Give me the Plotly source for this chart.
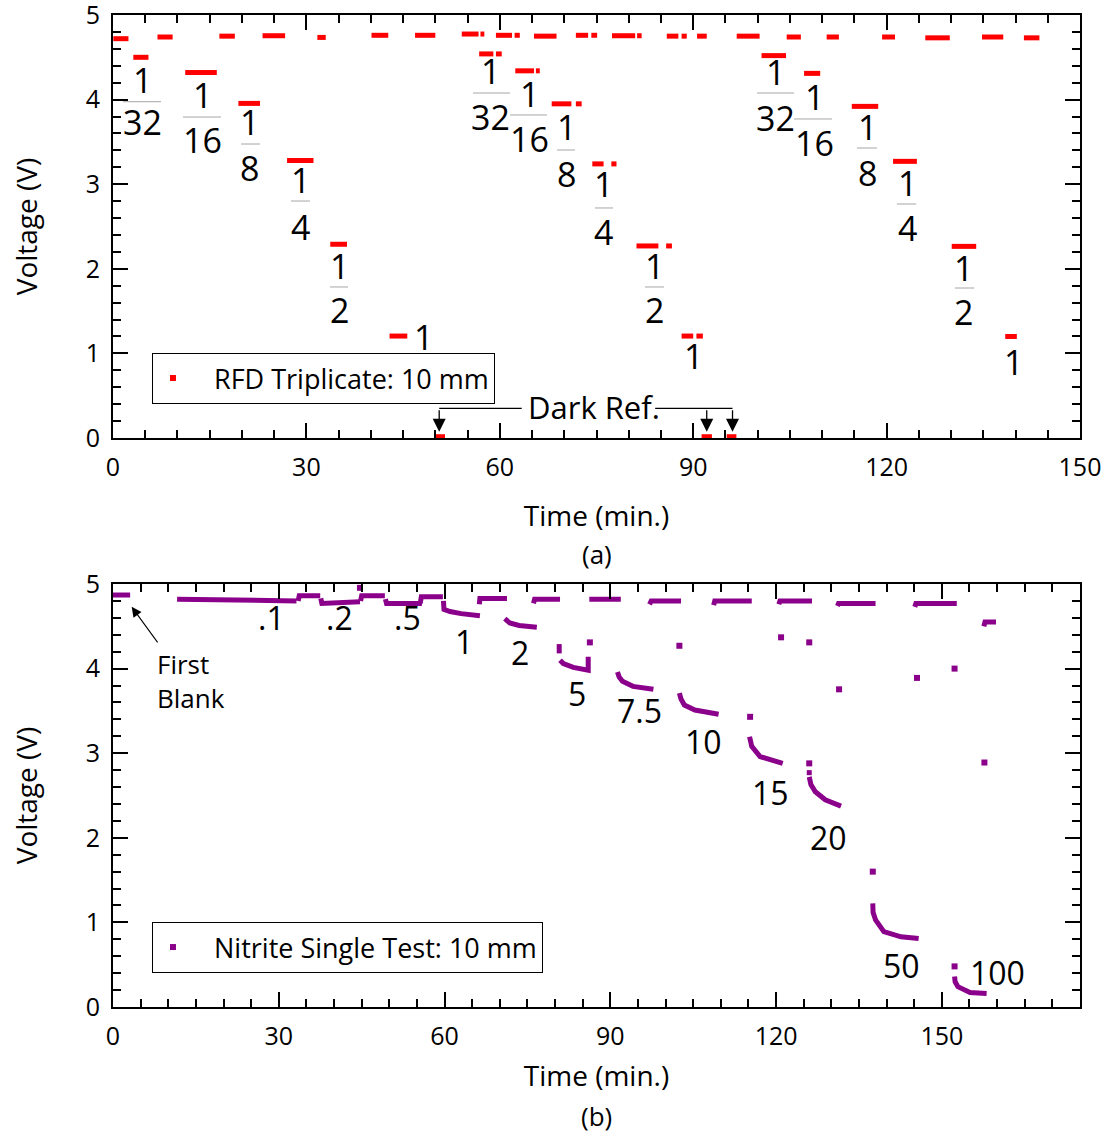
import plotly.graph_objects as go

# ---------------- data: panel (a) RFD triplicate ----------------
top_seg_x0 = [0.05, 3.15, 6.9, 11.2, 16.5, 19.45, 23.2, 27.0, 31.7, 33.7, 40.1, 42.9, 46.85, 50.0,
              54.1, 57.0, 56.8, 59.4, 59.4, 62.3, 62.4, 65.6, 65.3, 68.05, 71.8, 71.8, 74.2, 74.35, 77.3,
              77.4, 81.3, 81.2, 85.8, 85.9, 88.2, 88.2, 90.5, 90.6, 91.3, 95.2,
              96.75, 100.6, 104.5, 107.2, 110.7, 114.6, 119.3, 121.0, 126.0, 130.1, 134.8, 138.4, 141.3]
top_seg_x1 = [2.4, 5.5, 9.25, 16.1, 18.9, 22.8, 26.7, 31.1, 33.0, 36.3, 42.7, 45.65, 50.0, 51.5,
              56.7, 57.6, 59.0, 60.3, 61.9, 63.1, 65.3, 66.2, 68.8, 71.1, 72.7, 73.7, 75.1, 76.1, 78.1,
              81.0, 82.0, 84.6, 86.7, 87.7, 89.0, 90.0, 91.5, 92.1, 92.9, 96.7,
              100.3, 104.4, 106.7, 109.7, 112.6, 118.7, 121.3, 124.7, 129.8, 133.9, 138.1, 140.2, 143.7]
top_seg_v = [4.72, 4.50, 4.74, 4.32, 4.75, 3.955, 4.755, 3.28, 4.735, 2.29, 4.76, 1.205, 4.76, 0.015,
             4.775, 4.775, 4.54, 4.54, 4.76, 4.76, 4.34, 4.34, 4.75, 3.95, 3.95, 4.76, 4.76, 3.24, 3.24,
             4.755, 4.755, 2.27, 2.27, 4.75, 4.75, 1.205, 1.205, 4.75, 0.015, 0.015,
             4.75, 4.52, 4.74, 4.31, 4.74, 3.92, 4.74, 3.27, 4.73, 2.265, 4.74, 1.20, 4.73]

top_numerators = ["1"] * 18
top_denominators = ["32", "16", "8", "4", "2", "",
                    "32", "16", "8", "4", "2", "",
                    "32", "16", "8", "4", "2", ""]

# ---------------- data: panel (b) nitrite single test ----------------
bot_seg_x = [
    [0.0, 3.1],
    [11.6, 22.0, 33.2],
    [33.5, 33.7, 37.5],
    [37.6, 37.8, 44.7],
    [44.6, 44.6],
    [44.8, 45.0, 49.2],
    [49.3, 49.5, 55.9],
    [55.6, 55.8, 59.7],
    [59.8, 59.9, 61.0, 63.0, 66.4],
    [66.3, 66.4, 71.3],
    [70.9, 71.8, 73.5, 76.7],
    [76.1, 76.3, 80.9],
    [80.75, 80.75],
    [80.9, 81.5, 83.3, 86.0, 86.0],
    [86.2, 91.9],
    [91.3, 91.6, 92.2, 94.1, 97.8],
    [97.1, 97.4, 102.8],
    [102.5, 102.8, 103.4, 105.3, 109.6],
    [108.7, 108.9, 115.6],
    [115.2, 115.3, 115.6, 117.1, 121.2],
    [120.5, 120.7, 126.5],
    [126.0, 126.0],
    [126.0, 126.3, 127.1, 128.9, 131.75],
    [131.1, 131.3, 138.0],
    [137.5, 137.55, 138.0, 139.5, 142.6, 145.8],
    [145.1, 145.3, 152.7],
    [152.3, 152.4, 152.9, 155.1, 158.1],
    [157.6, 157.8, 159.8],
]
bot_seg_v = [
    [4.87, 4.87],
    [4.82, 4.81, 4.80],
    [4.80, 4.86, 4.86],
    [4.83, 4.77, 4.79],
    [4.99, 4.92],
    [4.80, 4.86, 4.86],
    [4.82, 4.77, 4.77],
    [4.77, 4.85, 4.85],
    [4.80, 4.70, 4.675, 4.65, 4.625],
    [4.76, 4.83, 4.83],
    [4.59, 4.54, 4.51, 4.49],
    [4.77, 4.82, 4.82],
    [4.29, 4.18],
    [4.10, 4.06, 4.015, 3.98, 4.14],
    [4.82, 4.82],
    [3.96, 3.90, 3.85, 3.79, 3.755],
    [4.76, 4.80, 4.80],
    [3.71, 3.64, 3.57, 3.51, 3.46],
    [4.75, 4.80, 4.80],
    [3.195, 3.14, 3.08, 2.96, 2.88],
    [4.76, 4.80, 4.80],
    [2.80, 2.74],
    [2.72, 2.63, 2.545, 2.45, 2.375],
    [4.74, 4.77, 4.77],
    [1.225, 1.12, 1.03, 0.89, 0.83, 0.81],
    [4.73, 4.77, 4.77],
    [0.36, 0.30, 0.24, 0.17, 0.16],
    [4.50, 4.55, 4.55],
]
bot_dot_x = [86.3, 102.5, 115.3, 120.9, 126.0, 126.0, 131.4, 137.5, 145.5, 152.3, 152.3, 157.7]
bot_dot_v = [4.31, 4.27, 3.43, 4.37, 4.31, 2.88, 3.755, 1.60, 3.89, 4.00, 0.48, 2.89]

bot_labels = [".1", ".2", ".5", "1", "2", "5", "7.5", "10", "15", "20", "50", "100"]

x_ticks_top = [0, 30, 60, 90, 120, 150]
x_ticks_bot = [0, 30, 60, 90, 120, 150]
y_ticks = [0, 1, 2, 3, 4, 5]

# ---------------- layout positions (not data) ----------------
# (center x, numerator y, bar y, bar x0, bar x1, denominator y) in panel (a) data units
frac_pos = [
    (4.50, 4.232, 3.975, 1.55, 7.45, 3.735),
    (13.81, 4.054, 3.794, 10.86, 16.75, 3.522),
    (21.25, 3.735, 3.475, 19.86, 22.80, 3.191),
    (29.01, 3.050, 2.801, 27.61, 30.56, 2.494),
    (35.06, 2.033, 1.785, 33.66, 36.45, 1.513),
    (48.24, 1.194, None, None, None, None),
    (58.63, 4.338, 4.078, 55.84, 61.58, 3.794),
    (64.68, 4.066, 3.818, 61.58, 67.32, 3.534),
    (70.27, 3.676, 3.404, 68.87, 71.66, 3.121),
    (76.16, 3.002, 2.719, 74.77, 77.56, 2.435),
    (84.07, 2.033, 1.785, 82.52, 85.47, 1.513),
    (90.12, 0.969, None, None, None, None),
    (102.69, 4.326, 4.078, 99.90, 105.64, 3.783),
    (108.74, 4.031, 3.771, 105.64, 111.53, 3.487),
    (116.96, 3.676, 3.428, 115.40, 118.50, 3.132),
    (123.18, 3.014, 2.766, 121.6, 124.6, 2.482),
    (132.0, 2.009, 1.773, 130.6, 133.6, 1.489),
    (139.76, 0.898, None, None, None, None),
]
bot_label_pos = [(28.77, 4.60), (41.07, 4.60), (53.37, 4.60), (63.51, 4.326), (73.64, 4.196),
                 (83.95, 3.70), (95.35, 3.499), (106.84, 3.144), (118.96, 2.541), (129.55, 2.009),
                 (142.75, 0.496), (160.12, 0.402)]

RED = "#FF0000"
PURPLE = "#8B008B"
FONT = "Open Sans"
NB = "\u00a0"

fig = go.Figure()

# panel (a) dashes
xt, yt = [], []
for a, b, v in zip(top_seg_x0, top_seg_x1, top_seg_v):
    xt += [a, b, None]
    yt += [v, v, None]
fig.add_trace(go.Scatter(x=xt, y=yt, mode="lines", line=dict(color=RED, width=5),
                         xaxis="x", yaxis="y", showlegend=False, hoverinfo="skip"))
fig.add_trace(go.Scatter(x=[None], y=[None], mode="markers",
                         marker=dict(symbol="square", size=6, color=RED),
                         name=NB * 3 + "RFD Triplicate: 10 mm", xaxis="x", yaxis="y",
                         legend="legend"))

# panel (b)
xb, yb = [], []
for sx, sv in zip(bot_seg_x, bot_seg_v):
    xb += list(sx) + [None]
    yb += list(sv) + [None]
fig.add_trace(go.Scatter(x=xb, y=yb, mode="lines", line=dict(color=PURPLE, width=5),
                         xaxis="x2", yaxis="y2", showlegend=False, hoverinfo="skip"))
fig.add_trace(go.Scatter(x=bot_dot_x, y=bot_dot_v, mode="markers",
                         marker=dict(symbol="square", size=6, color=PURPLE),
                         name=NB * 3 + "Nitrite Single Test: 10 mm", xaxis="x2", yaxis="y2",
                         legend="legend2"))

annotations = []
shapes = []
for (cx, ny, by, bx0, bx1, dy), num, den in zip(frac_pos, top_numerators, top_denominators):
    annotations.append(dict(x=cx, y=ny, xref="x", yref="y", text=num, showarrow=False,
                            font=dict(family=FONT, size=34, color="black")))
    if den:
        annotations.append(dict(x=cx, y=dy, xref="x", yref="y", text=den, showarrow=False,
                                font=dict(family=FONT, size=34, color="black")))
        shapes.append(dict(type="line", xref="x", yref="y", x0=bx0, x1=bx1, y0=by, y1=by,
                           line=dict(color="#A6A6A6", width=1)))

for (lx, ly), t in zip(bot_label_pos, bot_labels):
    annotations.append(dict(x=lx, y=ly, xref="x2", yref="y2", text=t, showarrow=False,
                            font=dict(family=FONT, size=32, color="black")))

# Dark Ref. annotation
annotations.append(dict(x=74.6, y=0.366, xref="x", yref="y", text="Dark Ref.", showarrow=False,
                        font=dict(family=FONT, size=31, color="black")))
shapes.append(dict(type="line", xref="x", yref="y", x0=50.6, x1=63.4, y0=0.351, y1=0.351,
                   line=dict(color="black", width=1.3)))
shapes.append(dict(type="line", xref="x", yref="y", x0=84.1, x1=96.1, y0=0.351, y1=0.351,
                   line=dict(color="black", width=1.3)))
for ax_x in (50.6, 92.1, 96.1):
    annotations.append(dict(x=ax_x, y=0.074, xref="x", yref="y", ax=0, ay=-23, axref="pixel",
                            ayref="pixel", text="", showarrow=True, arrowhead=2, arrowsize=2.0,
                            arrowwidth=1.3, arrowcolor="black"))

# First Blank annotation
annotations.append(dict(x=3.38, y=4.73, xref="x2", yref="y2", ax=27, ay=37, text="",
                        showarrow=True, arrowhead=2, arrowsize=1.8, arrowwidth=1.1,
                        arrowcolor="black"))
annotations.append(dict(x=7.6, y=3.85, xref="x2", yref="y2", text="First<br>Blank",
                        showarrow=False, xanchor="left", align="left",
                        font=dict(family=FONT, size=26, color="black")))

# (a) / (b)
annotations.append(dict(x=0.5005, y=0.4567, xref="paper", yref="paper", text="(a)",
                        showarrow=False, xanchor="center", yanchor="middle",
                        font=dict(family=FONT, size=26, color="black")))
annotations.append(dict(x=0.5005, y=-0.1099, xref="paper", yref="paper", text="(b)",
                        showarrow=False, xanchor="center", yanchor="middle",
                        font=dict(family=FONT, size=26, color="black")))


def xaxis_style(rng, ticks, anchor, standoff):
    return dict(range=rng, tickvals=ticks, ticks="inside", ticklen=15, tickwidth=1.5,
                tickcolor="black", showline=True, linewidth=2, linecolor="black",
                mirror="ticks", showgrid=False, zeroline=False, anchor=anchor,
                automargin=False, ticklabeloverflow="allow",
                tickfont=dict(family=FONT, size=25, color="black"), ticklabelstandoff=6,
                minor=dict(dtick=5, ticks="inside", ticklen=8, tickwidth=1.5,
                           tickcolor="black", showgrid=False),
                title=dict(text="Time (min.)", font=dict(family=FONT, size=28, color="black"),
                           standoff=standoff))


def yaxis_style(domain, anchor):
    return dict(range=[0, 5], tickvals=y_ticks, domain=domain, ticks="inside", ticklen=15,
                tickwidth=1.5, tickcolor="black", showline=True, linewidth=2,
                linecolor="black", mirror="ticks", showgrid=False, zeroline=False,
                anchor=anchor, automargin=False, ticklabeloverflow="allow",
                tickfont=dict(family=FONT, size=25, color="black"),
                ticklabelstandoff=6,
                minor=dict(dtick=0.2, ticks="inside", ticklen=8, tickwidth=1.5,
                           tickcolor="black", showgrid=False),
                title=dict(text="Voltage (V)", font=dict(family=FONT, size=28, color="black"),
                           standoff=40))


legend_style = dict(bgcolor="white", bordercolor="black", borderwidth=1,
                    font=dict(family=FONT, size=27, color="black"), xanchor="left",
                    yanchor="top", itemwidth=30, itemsizing="trace")

fig.update_layout(
    width=1106, height=1134,
    margin=dict(l=113, r=26, t=15, b=127, autoexpand=False),
    paper_bgcolor="white", plot_bgcolor="white",
    font=dict(family=FONT, color="black"),
    xaxis=xaxis_style([0, 150], x_ticks_top, "y", 24),
    yaxis=yaxis_style([0.5736, 1.0], "x"),
    xaxis2=xaxis_style([0, 175], x_ticks_bot, "y2", 15),
    yaxis2=yaxis_style([0.0, 0.4264], "x2"),
    legend=dict(x=0.0403, y=0.6593, **legend_style),
    legend2=dict(x=0.0403, y=0.0857, **legend_style),
    annotations=annotations,
    shapes=shapes,
)

fig.write_html("out.html")
